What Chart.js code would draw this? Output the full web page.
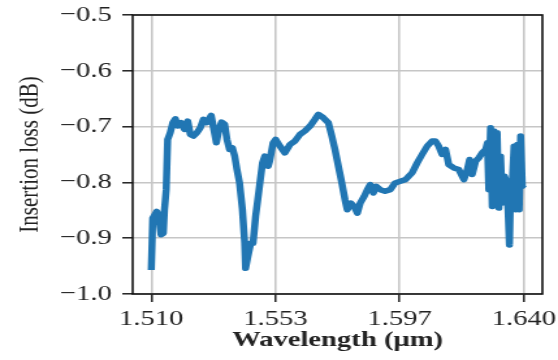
<!DOCTYPE html>
<html>
<head>
<meta charset="utf-8">
<script src="https://cdn.jsdelivr.net/npm/chart.js@4"></script>
<style>
  html, body { margin: 0; padding: 0; background: #fff; overflow: hidden; }
  #wrap { width: 429px; height: 360px; transform: scaleX(1.3007); transform-origin: 0 0; }
</style>
</head>
<body>
<div id="wrap"><canvas id="myChart" width="429" height="360"></canvas></div>
<script>
// wavelength (um) and insertion loss (dB)
const wavelength = [
  1.5100, 1.5105, 1.5119, 1.5126, 1.5134, 1.5142, 1.5146, 1.5152, 1.5157, 1.5166,
  1.5175, 1.5184, 1.5192, 1.5204, 1.5216, 1.5227, 1.5236, 1.5247, 1.5259, 1.5271,
  1.5282, 1.5294, 1.5309, 1.5317, 1.5327, 1.5336, 1.5345, 1.5356, 1.5364, 1.5373,
  1.5383, 1.5391, 1.5399, 1.5408, 1.5418, 1.5426, 1.5429, 1.5437, 1.5447, 1.5455,
  1.5464, 1.5476, 1.5488, 1.5496, 1.5503, 1.5508, 1.5513, 1.5525, 1.5534, 1.5549,
  1.5566, 1.5584, 1.5601, 1.5619, 1.5636, 1.5654, 1.5671, 1.5683, 1.5700, 1.5718,
  1.5730, 1.5741, 1.5753, 1.5765, 1.5776, 1.5784, 1.5796, 1.5808, 1.5819, 1.5829,
  1.5843, 1.5854, 1.5864, 1.5875, 1.5885, 1.5899, 1.5916, 1.5934, 1.5951, 1.5969,
  1.5987, 1.6010, 1.6028, 1.6045, 1.6063, 1.6080, 1.6092, 1.6103, 1.6115, 1.6127,
  1.6138, 1.6156, 1.6173, 1.6191, 1.6203, 1.6211, 1.6220, 1.6232, 1.6243, 1.6255,
  1.6267, 1.6273, 1.6278, 1.6284, 1.6290, 1.6296, 1.6302, 1.6307, 1.6313, 1.6319,
  1.6325, 1.6333, 1.6340, 1.6345, 1.6350, 1.6354, 1.6360, 1.6366, 1.6372, 1.6378,
  1.6384, 1.6389, 1.6395, 1.6400
];
const insertionLoss = [
  -0.957, -0.864, -0.852, -0.860, -0.894, -0.891, -0.849, -0.813, -0.723, -0.711,
  -0.693, -0.686, -0.699, -0.693, -0.705, -0.690, -0.714, -0.717, -0.711, -0.702,
  -0.687, -0.693, -0.680, -0.702, -0.729, -0.705, -0.692, -0.696, -0.723, -0.741,
  -0.738, -0.753, -0.777, -0.801, -0.849, -0.909, -0.954, -0.933, -0.909, -0.909,
  -0.861, -0.813, -0.765, -0.753, -0.760, -0.771, -0.762, -0.729, -0.723, -0.735,
  -0.747, -0.732, -0.726, -0.714, -0.708, -0.699, -0.687, -0.678, -0.684, -0.693,
  -0.717, -0.741, -0.771, -0.801, -0.831, -0.849, -0.837, -0.843, -0.855, -0.837,
  -0.825, -0.813, -0.804, -0.819, -0.807, -0.813, -0.816, -0.813, -0.801, -0.798,
  -0.795, -0.783, -0.765, -0.750, -0.735, -0.726, -0.726, -0.735, -0.750, -0.741,
  -0.768, -0.774, -0.777, -0.795, -0.777, -0.759, -0.786, -0.762, -0.756, -0.747,
  -0.741, -0.729, -0.813, -0.702, -0.843, -0.708, -0.813, -0.711, -0.846, -0.753,
  -0.837, -0.789, -0.801, -0.849, -0.912, -0.813, -0.801, -0.735, -0.849, -0.732,
  -0.849, -0.717, -0.807, -0.804
];
const xTickValues = [1.510, 1.55333, 1.59667, 1.640];
const xTickLabels = ["1.510", "1.553", "1.597", "1.640"];
const yTickValues = [-1.0, -0.9, -0.8, -0.7, -0.6, -0.5];

const frame = {
  id: "frame",
  afterDraw(chart) {
    const { ctx, chartArea: a } = chart;
    ctx.save();
    ctx.strokeStyle = "#111";
    ctx.lineWidth = 1.6;
    ctx.strokeRect(a.left, a.top, a.right - a.left, a.bottom - a.top);
    ctx.restore();
  },
};

const ctx = document.getElementById("myChart").getContext("2d");
new Chart(ctx, {
  type: "line",
  data: {
    datasets: [
      {
        data: wavelength.map((w, i) => ({ x: w, y: insertionLoss[i] })),
        borderColor: "#2176b3",
        borderWidth: 5.5,
        borderJoinStyle: "round",
        pointRadius: 0,
        tension: 0,
        fill: false,
      },
    ],
  },
  options: {
    responsive: false,
    animation: false,
    layout: { padding: { left: 0, right: 12, top: 15, bottom: 0 } },
    plugins: { legend: { display: false }, tooltip: { enabled: false } },
    scales: {
      x: {
        type: "linear",
        min: 1.5035,
        max: 1.6465,
        afterBuildTicks: (scale) => {
          scale.ticks = xTickValues.map((v) => ({ value: v }));
        },
        afterFit: (scale) => {
          scale.height = 66;
          scale.paddingLeft = 0;
          scale.paddingRight = 0;
        },
        ticks: {
          autoSkip: false,
          maxRotation: 0,
          padding: 4,
          color: "#222",
          font: { family: "Liberation Serif", size: 22 },
          callback: (v, i) => xTickLabels[i],
        },
        grid: { color: "#c6c6c6", lineWidth: 1.6, tickColor: "#111", tickLength: 8, tickWidth: 1.4 },
        border: { display: false },
        title: {
          display: true,
          text: "Wavelength (\u03bcm)",
          color: "#222",
          font: { family: "Liberation Serif", size: 22, weight: "bold" },
          padding: { top: 0, bottom: 6 },
        },
      },
      y: {
        min: -1.0,
        max: -0.5,
        afterBuildTicks: (scale) => {
          scale.ticks = yTickValues.map((v) => ({ value: v }));
        },
        afterFit: (scale) => {
          scale.width = 102;
          scale.paddingTop = 0;
          scale.paddingBottom = 0;
        },
        ticks: {
          padding: 8,
          color: "#222",
          font: { family: "Liberation Serif", size: 22 },
          callback: (v) => (v < 0 ? "\u2212" : "") + Math.abs(v).toFixed(1),
        },
        grid: { color: "#c6c6c6", lineWidth: 1.6, tickColor: "#111", tickLength: 8, tickWidth: 1.4 },
        border: { display: false },
        title: {
          display: true,
          text: "Insertion loss (dB)",
          color: "#222",
          font: { family: "Liberation Serif", size: 21 },
          padding: { top: 11, bottom: 0 },
        },
      },
    },
  },
  plugins: [frame],
});
</script>
</body>
</html>
